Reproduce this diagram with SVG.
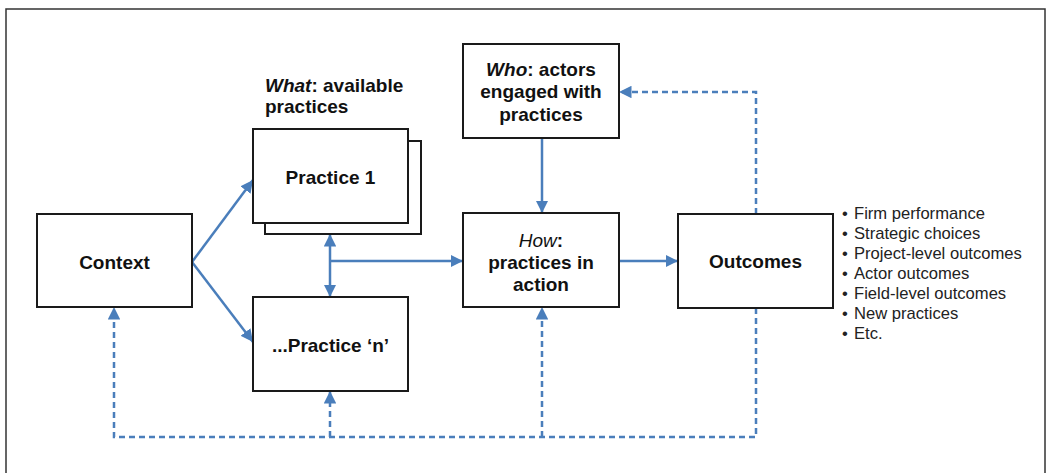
<svg xmlns="http://www.w3.org/2000/svg" width="1050" height="473" viewBox="0 0 1050 473">
<style>
.box{fill:#fff;stroke:#1a1a1a;stroke-width:2}
.t{font-family:"Liberation Sans",Arial,sans-serif;font-weight:bold;font-size:19px;fill:#111;text-anchor:middle}
.b{font-family:"Liberation Sans",Arial,sans-serif;font-size:16.6px;fill:#222}
.c{fill:none;stroke:#4a7ebb;stroke-width:2.5}
.d{stroke-dasharray:6 4}
</style>
<defs>
<marker id="ah" viewBox="0 0 10 10" refX="10" refY="5" markerWidth="5" markerHeight="5" markerUnits="strokeWidth" orient="auto-start-reverse">
<path d="M0,0 L10,5 L0,10 z" fill="#4a7ebb"/>
</marker>
</defs>
<rect x="6" y="9" width="1039" height="480" fill="#fff" stroke="#333" stroke-width="1.5"/>
<g id="connectors">
<path class="c" d="M192,262 L253,180" marker-end="url(#ah)"/>
<path class="c" d="M192,262 L253,342" marker-end="url(#ah)"/>
<path class="c" d="M330,234 L330,297" marker-start="url(#ah)" marker-end="url(#ah)"/>
<path class="c" d="M330,261 L463,261" marker-end="url(#ah)"/>
<path class="c" d="M542,138 L542,213" marker-end="url(#ah)"/>
<path class="c" d="M619,261 L678,261" marker-end="url(#ah)"/>
<path class="c d" d="M756,214 L756,92 L619,92" marker-end="url(#ah)"/>
<path class="c d" d="M756,308 L756,437 L114,437 L114,307" marker-end="url(#ah)"/>
<path class="c d" d="M330,437 L330,391" marker-end="url(#ah)"/>
<path class="c d" d="M542,437 L542,307" marker-end="url(#ah)"/>
</g>
<g id="context">
<rect class="box" x="37" y="214" width="155" height="93"/>
<text class="t" x="114.5" y="269">Context</text>
</g>
<g id="what-label">
<text class="t" x="265" y="92" style="text-anchor:start"><tspan font-style="italic">What</tspan>: available</text>
<text class="t" x="265" y="113" style="text-anchor:start">practices</text>
</g>
<g id="practice1">
<rect class="box" x="265" y="141" width="156" height="93"/>
<rect class="box" x="253" y="129" width="155" height="94"/>
<text class="t" x="330.5" y="184">Practice 1</text>
</g>
<g id="practicen">
<rect class="box" x="253" y="297" width="155" height="94"/>
<text class="t" x="330.5" y="352">...Practice ‘n’</text>
</g>
<g id="who">
<rect class="box" x="463" y="44" width="156" height="94"/>
<text class="t" x="541" y="76"><tspan font-style="italic">Who</tspan>: actors</text>
<text class="t" x="541" y="98">engaged with</text>
<text class="t" x="541" y="121">practices</text>
</g>
<g id="how">
<rect class="box" x="463" y="213" width="156" height="94"/>
<text class="t" x="541" y="247"><tspan font-style="italic" font-weight="normal">How</tspan>:</text>
<text class="t" x="541" y="269">practices in</text>
<text class="t" x="541" y="291">action</text>
</g>
<g id="outcomes">
<rect class="box" x="678" y="214" width="155" height="94"/>
<text class="t" x="755.5" y="268">Outcomes</text>
</g>
<g id="outcome-list">
<text class="b" x="842" y="219">•</text><text class="b" x="854" y="219">Firm performance</text>
<text class="b" x="842" y="239">•</text><text class="b" x="854" y="239">Strategic choices</text>
<text class="b" x="842" y="259">•</text><text class="b" x="854" y="259">Project-level outcomes</text>
<text class="b" x="842" y="279">•</text><text class="b" x="854" y="279">Actor outcomes</text>
<text class="b" x="842" y="299">•</text><text class="b" x="854" y="299">Field-level outcomes</text>
<text class="b" x="842" y="319">•</text><text class="b" x="854" y="319">New practices</text>
<text class="b" x="842" y="339">•</text><text class="b" x="854" y="339">Etc.</text>
</g>
</svg>
